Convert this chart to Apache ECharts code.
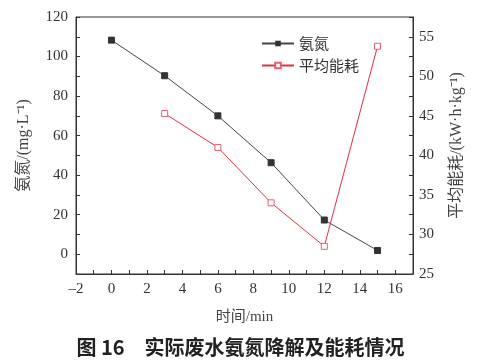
<!DOCTYPE html>
<html><head><meta charset="utf-8">
<script src="https://cdn.jsdelivr.net/npm/echarts@6/dist/echarts.min.js"></script>
<style>html,body{margin:0;padding:0;background:#fff}#c{width:481px;height:361px}</style>
</head><body><div id="c"></div>
<script>
const timeMin = [0, 3, 6, 9, 12, 15];
const ammonia = [108.3, 90.3, 70, 46.3, 17.3, 1.9];
const energyTime = [3, 6, 9, 12, 15];
const energy = [45.3, 41.0, 34.0, 28.5, 53.8];
const seriesNames = ['氨氮', '平均能耗'];

const serif = 'Liberation Serif, "Times New Roman", "Noto Sans CJK SC", serif';
const chart = echarts.init(document.getElementById('c'));
chart.setOption({
  animation: false,
  backgroundColor: '#fff',
  title: {
    text: '图 16　实际废水氨氮降解及能耗情况',
    left: 'center', top: 332,
    textStyle: { fontFamily: '"Noto Sans CJK SC", sans-serif', fontSize: 20, fontWeight: 'bold', color: '#222' }
  },
  grid: { left: 76, right: 68, top: 17, bottom: 87, show: true, borderColor: '#333', borderWidth: 1 },
  legend: {
    orient: 'vertical', left: 256, top: 31, itemGap: 7, itemWidth: 32, itemHeight: 7,
    textStyle: { fontFamily: '"Noto Sans CJK SC", sans-serif', fontSize: 15, color: '#333' },
    data: seriesNames
  },
  xAxis: {
    type: 'value', min: -2, max: 17, interval: 1,
    name: '时间/min', nameLocation: 'middle', nameGap: 36,
    nameTextStyle: { fontFamily: serif, fontSize: 15, color: '#444' },
    axisLine: { onZero: false, lineStyle: { color: '#333' } },
    axisTick: { inside: true, length: 4, lineStyle: { color: '#333' } },
    axisLabel: { fontFamily: serif, fontSize: 15, color: '#333', margin: 8,
      formatter: v => (v % 2 === 0 && v <= 16) ? (v < 0 ? '–' + Math.abs(v) : String(v)) : '' },
    splitLine: { show: false }
  },
  yAxis: [{
    type: 'value', min: -10, max: 120, interval: 10,
    name: '氨氮/(mg·L⁻¹)', nameLocation: 'middle', nameGap: 44, nameRotate: 90,
    nameTextStyle: { fontFamily: serif, fontSize: 16, color: '#444' },
    axisLine: { show: true, onZero: false, lineStyle: { color: '#333' } },
    axisTick: { inside: true, length: 4, lineStyle: { color: '#333' } },
    axisLabel: { fontFamily: serif, fontSize: 15, color: '#333', margin: 8,
      formatter: v => (v >= 0 && v % 20 === 0) ? String(v) : '' },
    splitLine: { show: false }
  }, {
    type: 'value', min: 25, max: 57.5, interval: 2.5, position: 'right',
    name: '平均能耗/(kW·h·kg⁻¹)', nameLocation: 'middle', nameGap: 36, nameRotate: 90,
    nameTextStyle: { fontFamily: serif, fontSize: 16, color: '#444' },
    axisLine: { show: true, onZero: false, lineStyle: { color: '#333' } },
    axisTick: { inside: true, length: 4, lineStyle: { color: '#333' } },
    axisLabel: { fontFamily: serif, fontSize: 15, color: '#333', margin: 6,
      formatter: v => (v % 5 === 0 && v <= 55) ? String(v) : '' },
    splitLine: { show: false }
  }],
  series: [{
    name: seriesNames[0], type: 'line', yAxisIndex: 0,
    data: timeMin.map((t, i) => [t, ammonia[i]]),
    symbol: 'rect', symbolSize: 6,
    lineStyle: { color: '#444', width: 1 },
    itemStyle: { color: '#333', borderColor: '#333' }
  }, {
    name: seriesNames[1], type: 'line', yAxisIndex: 1,
    data: energyTime.map((t, i) => [t, energy[i]]),
    symbol: 'rect', symbolSize: 6,
    lineStyle: { color: '#e03040', width: 1 },
    itemStyle: { color: '#fff', borderColor: '#e06070', borderWidth: 1 }
  }]
});
</script></body></html>
